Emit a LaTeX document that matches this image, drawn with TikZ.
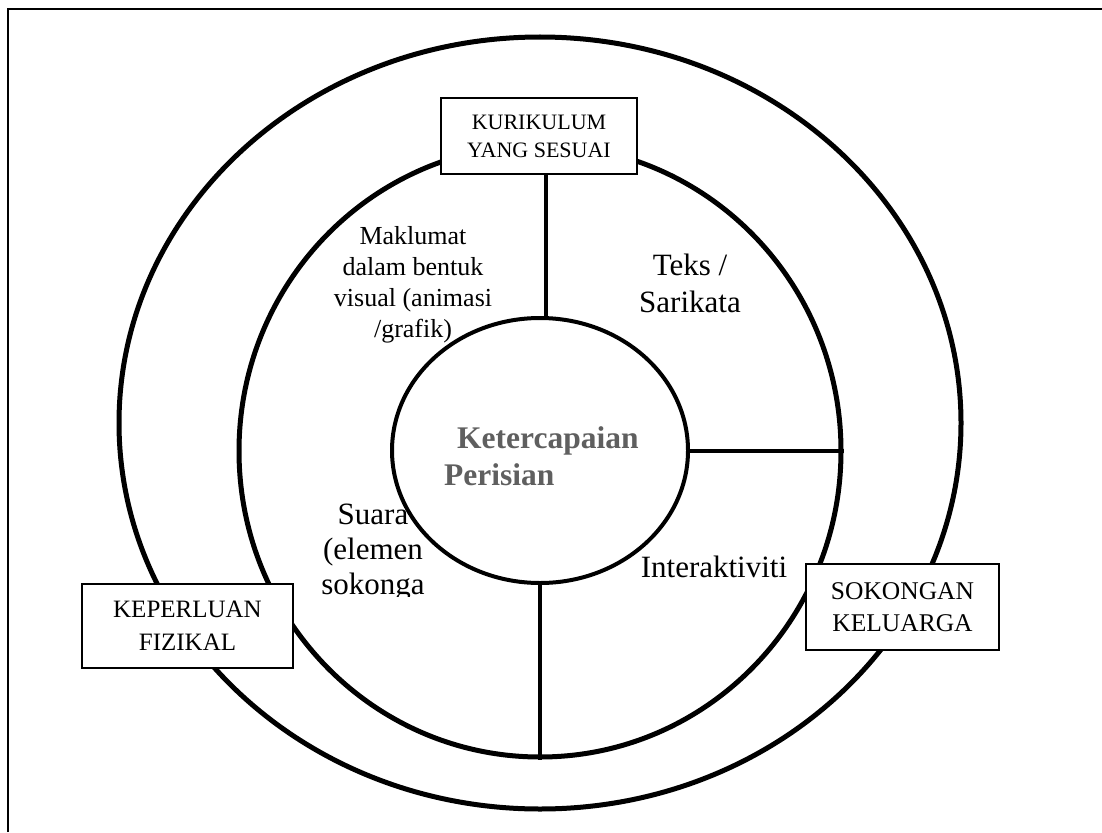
\documentclass[tikz,border=0pt]{standalone}
\usepackage{fontspec}
\setmainfont{Liberation Serif}
\usetikzlibrary{positioning,shapes.geometric}
\definecolor{kgray}{RGB}{95,95,95}

\begin{document}
\begin{tikzpicture}[x=1pt,y=-1pt,
  ring/.style={draw,ellipse,inner sep=0pt,line width=5pt},
  box/.style={draw,fill=white,line width=2pt,inner sep=0pt,align=center},
  spoke/.style={line width=4pt},
  lbl/.style={align=center,inner sep=0pt,anchor=base}]
  \useasboundingbox (0,0) rectangle (1102,832);
  \draw[line width=2pt] (8,832) -- (8,9.5) -- (1102,9.5);
  % the three rings
  \node[ring,minimum width=842pt,minimum height=772pt] (outer) at (540,423) {};
  \node[ring,minimum width=602pt,minimum height=612pt] (middle) at (540,451) {};
  \node[ring,line width=4pt,minimum width=296pt,minimum height=265pt] (inner) at (540,450.5) {};
  \node[font=\bfseries\fontsize{31.5}{37}\selectfont,text=kgray,inner sep=0pt,anchor=base west] (ket) at (457,448) {Ketercapaian};
  \node[font=\bfseries\fontsize{31.5}{37}\selectfont,text=kgray,inner sep=0pt,anchor=base west] (per) at (444,485) {Perisian};
  % spokes
  \coordinate (ktop) at (546,174);
  \draw[spoke] (ktop) -- (ktop |- inner.north);
  \draw[spoke] (inner.east) -- (inner.east -| middle.east);
  \draw[spoke] (inner.south) -- (middle.south);
  % boxes
  \node[box,font=\fontsize{22}{28}\selectfont,minimum width=196pt,minimum height=76pt] (kurikulum) at (539,136) {KURIKULUM\\YANG SESUAI};
  \node[box,font=\fontsize{25}{33}\selectfont,minimum width=211pt,minimum height=84pt] (keperluan) at (187.5,626) {KEPERLUAN\\FIZIKAL};
  \node[box,font=\fontsize{25.5}{32}\selectfont,minimum width=193pt,minimum height=86pt] (sokongan) at (902.5,607) {SOKONGAN\\KELUARGA};
  % labels in the middle ring (base = last line)
  \node[lbl,font=\fontsize{26}{30.7}\selectfont] (maklumat) at (413,337) {Maklumat\\dalam bentuk\\visual (animasi\\/grafik)};
  \node[lbl,font=\fontsize{31}{37}\selectfont] (teks) at (690,312) {Teks /\\Sarikata};
  \node[lbl,font=\fontsize{31}{37}\selectfont] (inter) at (714,577) {Interaktiviti};
  \begin{scope}
    \clip (300,480) rectangle (460,596);
    \node[lbl,font=\fontsize{31}{35}\selectfont] (suara) at (373,594) {Suara\\(elemen\\sokonga};
  \end{scope}
\end{tikzpicture}
\end{document}
